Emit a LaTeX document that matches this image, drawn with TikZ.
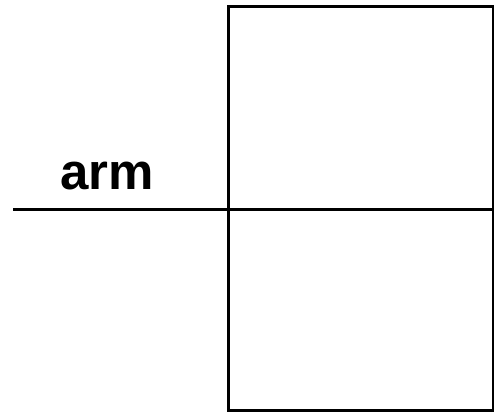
\documentclass[tikz,border=0pt]{standalone}
\usepackage{fontspec}
\setmainfont{Liberation Sans}
\begin{document}
\begin{tikzpicture}[x=1pt,y=-1pt,
  edge/.style={line width=3pt,black},
  lbl/.style={font=\fontsize{51}{55}\selectfont\bfseries,inner sep=0pt,anchor=base}]
\useasboundingbox (0,0) rectangle (494,412);
\fill[white] (0,0) rectangle (494,412);
\coordinate (tl) at (228,7);
\coordinate (br) at (493,410);
\draw[edge] (tl) rectangle (br);
\coordinate (la) at (13,209);
\coordinate (lb) at (494,209);
\draw[edge] (la) -- (lb);
\node[lbl] (arm) at (107,189) {arm};
\end{tikzpicture}
\end{document}
